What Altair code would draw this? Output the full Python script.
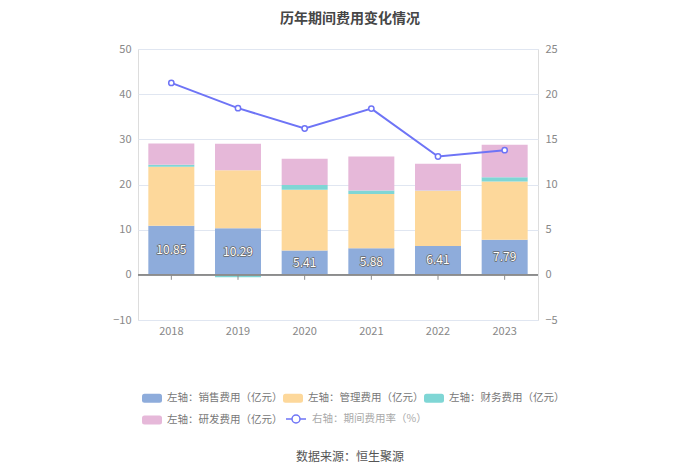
import json
import altair as alt
import pandas as pd

years = ["2018", "2019", "2020", "2021", "2022", "2023"]
sales = [10.85, 10.29, 5.41, 5.88, 6.41, 7.79]
admin = [13.10, 12.85, 13.40, 12.00, 12.20, 12.90]
finance = [0.45, -0.55, 1.10, 0.80, 0.08, 0.90]
rnd = [4.70, 5.90, 5.80, 7.50, 5.90, 7.20]
rate = [21.25, 18.45, 16.20, 18.40, 13.10, 13.80]

series_names = ["左轴：销售费用（亿元）", "左轴：管理费用（亿元）", "左轴：财务费用（亿元）", "左轴：研发费用（亿元）"]
line_name = "右轴：期间费用率（%）"
colors = ["#8eacdb", "#fdd89b", "#7fd6d5", "#e6b8d9"]
line_color = "#6e74f6"
left_ticks = [-10, 0, 10, 20, 30, 40, 50]
right_ticks = [-5, 0, 5, 10, 15, 20, 25]
title_text = "历年期间费用变化情况"
source_text = "数据来源：恒生聚源"

FONT = "Noto Sans CJK SC"

rows = []
for i, (name, vals) in enumerate(zip(series_names, [sales, admin, finance, rnd])):
    for yr, v in zip(years, vals):
        rows.append({"year": yr, "series": name, "value": v, "idx": i})
bars_df = pd.DataFrame(rows)
sales_df = pd.DataFrame({"year": years, "value": sales})
rate_df = pd.DataFrame({"year": years, "rate": rate, "name": [line_name] * len(years)})
zero_df = pd.DataFrame({"year": years})
src_df = pd.DataFrame({"t": [source_text]})

RECT_PATH = ("M-0.75,-0.45 H0.75 Q1,-0.45 1,-0.2 V0.2 Q1,0.45 0.75,0.45 "
             "H-0.75 Q-1,0.45 -1,0.2 V-0.2 Q-1,-0.45 -0.75,-0.45 Z")
LINE_PATH = ("M-1,0 H-0.4 M0.4,0 H1 M-0.4,0 A0.4,0.4 0 1,1 0.4,0 "
             "A0.4,0.4 0 1,1 -0.4,0")

label_expr = json.dumps(series_names, ensure_ascii=False) + "[datum.value]"

x_enc = alt.X(
    "year:N",
    sort=years,
    scale=alt.Scale(paddingInner=0.31, paddingOuter=0.155),
    axis=alt.Axis(title=None, domain=False, ticks=False, labelAngle=0,
                  labelPadding=5, labelFontSize=11, labelColor="#888",
                  labelFont=FONT),
)

y_left = alt.Y(
    "value:Q",
    scale=alt.Scale(domain=[-10, 50], nice=False),
    axis=alt.Axis(orient="left", values=left_ticks, title=None, domain=False,
                  ticks=False, labelPadding=7, gridColor="#e0e6f1",
                  labelColor="#888", labelFontSize=11, labelFont=FONT),
)

bars = alt.Chart(bars_df).mark_bar().encode(
    x=x_enc,
    y=y_left,
    color=alt.Color(
        "idx:O",
        scale=alt.Scale(domain=[0, 1, 2, 3], range=colors),
        legend=alt.Legend(
            title=None, orient="none", legendX=4, legendY=339, columns=3,
            direction="horizontal", labelExpr=label_expr,
            symbolType=RECT_PATH, symbolSize=400, symbolStrokeWidth=0,
            labelOffset=5, labelFontSize=10.5, labelColor="#777",
            labelFont=FONT, columnPadding=-8, rowPadding=6,
            padding=0, labelLimit=300,
        ),
    ),
    order=alt.Order("idx:Q", sort="ascending"),
    tooltip=["series:N", "value:Q"],
)

zero_rule = alt.Chart(zero_df).mark_rule(color="#8c8c8c", strokeWidth=1).encode(
    y=alt.datum(0)
)

ticks = alt.Chart(zero_df).mark_rule(color="#8c8c8c", strokeWidth=1).encode(
    x=alt.X("year:N", sort=years),
    y=alt.datum(0),
    y2=alt.datum(-1.1),
)

label_base = alt.Chart(sales_df).transform_calculate(mid="datum.value / 2")
label_outline = label_base.mark_text(
    fontSize=12, font=FONT, fill="#666", stroke="#666", strokeWidth=1.4,
    strokeJoin="round",
).encode(
    x=alt.X("year:N", sort=years),
    y=alt.Y("mid:Q"),
    text=alt.Text("value:Q", format=".2f"),
)
label_text = label_base.mark_text(fontSize=12, font=FONT, fill="white").encode(
    x=alt.X("year:N", sort=years),
    y=alt.Y("mid:Q"),
    text=alt.Text("value:Q", format=".2f"),
)

source = alt.Chart(src_df).mark_text(
    fontSize=12, font=FONT, color="#555", align="center", baseline="middle"
).encode(text="t:N", x=alt.value(212), y=alt.value(408))

left = alt.layer(bars, zero_rule, ticks, label_outline, label_text, source)

y_right = alt.Y(
    "rate:Q",
    scale=alt.Scale(domain=[-5, 25], nice=False),
    axis=alt.Axis(orient="right", values=right_ticks, title=None, domain=False,
                  ticks=False, grid=False, labelPadding=7, labelColor="#888",
                  labelFontSize=11, labelFont=FONT),
)

stroke_enc = alt.Stroke(
    "name:N",
    scale=alt.Scale(domain=[line_name], range=[line_color]),
    legend=alt.Legend(
        title=None, orient="none", legendX=147, legendY=359,
        symbolType=LINE_PATH, symbolSize=400, symbolStrokeWidth=1.5,
        symbolFillColor="white", labelOffset=5, labelFontSize=10.5,
        labelColor="#aaa", labelFont=FONT, padding=0, labelLimit=300,
    ),
)

line = alt.Chart(rate_df).mark_line(strokeWidth=2).encode(
    x=alt.X("year:N", sort=years), y=y_right, stroke=stroke_enc
)
points = alt.Chart(rate_df).mark_point(
    filled=True, fill="white", size=28, strokeWidth=1.5, opacity=1
).encode(x=alt.X("year:N", sort=years), y=y_right, stroke=stroke_enc)

right = alt.layer(line, points)

chart = alt.layer(left, right).resolve_scale(y="independent").properties(
    width=400,
    height=271,
    autosize=alt.AutoSizeParams(type="none"),
    padding={"left": 130, "top": 41, "right": 154, "bottom": 146},
    title=alt.TitleParams(
        title_text, fontSize=14, fontWeight="bold", color="#464646",
        anchor="middle", frame="group", dx=12, offset=17, font=FONT,
    ),
).configure_view(stroke=None).configure(font=FONT)

chart.save("out.html", embed_options={"renderer": "svg", "actions": False})
